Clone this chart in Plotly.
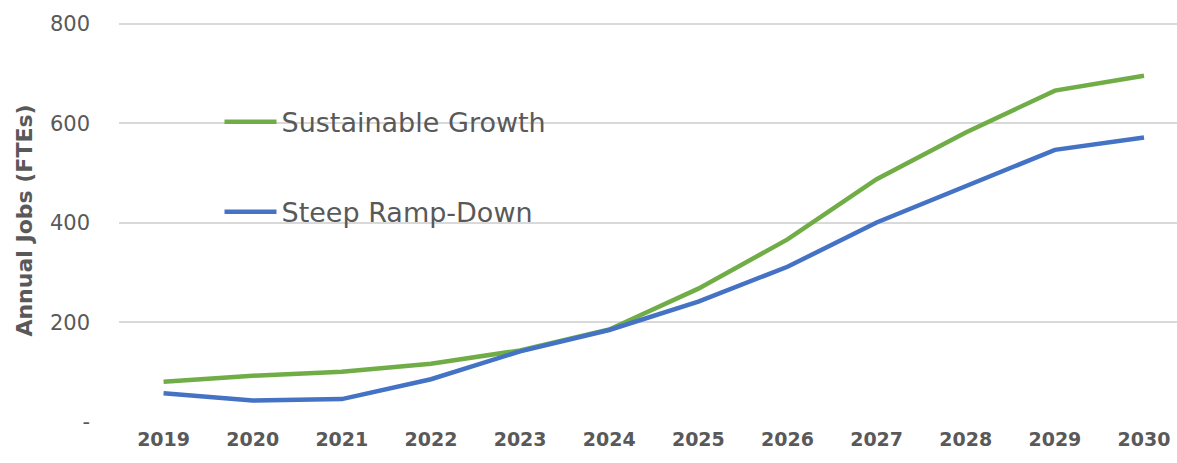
import plotly.graph_objects as go

years = ["2019", "2020", "2021", "2022", "2023", "2024", "2025", "2026", "2027", "2028", "2029", "2030"]
sustainable_growth = [81, 93, 101, 117, 144, 186, 268, 367, 488, 582, 666, 696]
steep_ramp_down = [58, 43, 46, 86, 142, 185, 242, 312, 401, 473, 547, 572]
y_ticks = [0, 200, 400, 600, 800]
y_tick_labels = ["-", "200", "400", "600", "800"]

FONT = "DejaVu Sans, sans-serif"
GREY = "#595959"

fig = go.Figure()
fig.add_trace(go.Scatter(x=years, y=sustainable_growth, mode="lines", name="Sustainable Growth",
                         legendgroup="a", line=dict(color="#70AD47", width=4.5)))
fig.add_trace(go.Scatter(x=years, y=steep_ramp_down, mode="lines", name="Steep Ramp-Down",
                         legendgroup="b", line=dict(color="#4472C4", width=4.5)))

fig.update_layout(
    width=1177, height=463,
    margin=dict(l=119, r=0, t=19, b=41),
    paper_bgcolor="white", plot_bgcolor="white",
    font=dict(family=FONT, color=GREY),
    showlegend=True,
    legend=dict(x=0.095, y=0.805, xanchor="left", yanchor="top",
                bgcolor="rgba(0,0,0,0)", font=dict(size=27, color=GREY, family=FONT),
                traceorder="grouped", tracegroupgap=52, itemwidth=52),
    xaxis=dict(type="category", range=[-0.5, 11.37], showgrid=False, zeroline=False,
               showline=False, automargin=False,
               tickfont=dict(size=19, color=GREY, family=FONT, weight="bold"),
               ticklabelstandoff=4),
    yaxis=dict(range=[0, 810], tickvals=y_ticks, ticktext=y_tick_labels,
               showgrid=True, gridcolor="#D9D9D9", gridwidth=1.5, zeroline=False,
               showline=False, automargin=False,
               tickfont=dict(size=21, color=GREY, family=FONT),
               ticklabelstandoff=28,
               title=dict(text="Annual Jobs (FTEs)",
                          font=dict(size=22, color=GREY, family=FONT, weight="bold"),
                          standoff=11)),
)

fig.write_html("out.html", config={"displayModeBar": False},
               post_script="document.body.style.margin='0';document.body.style.padding='0';")
